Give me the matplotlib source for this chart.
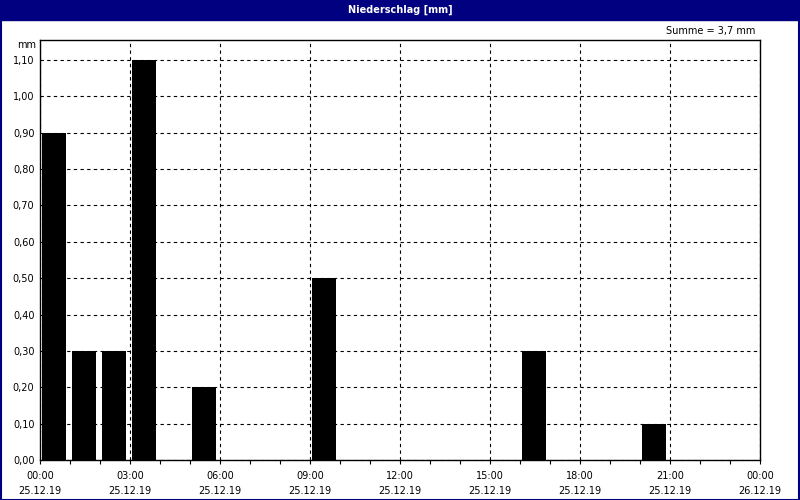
import matplotlib.pyplot as plt
from matplotlib.ticker import MultipleLocator, FuncFormatter
from matplotlib.patches import Rectangle

# Data: hourly precipitation on 25.12.19
hours = [0, 1, 2, 3, 5, 9, 16, 20]
rain_mm = [0.9, 0.3, 0.3, 1.1, 0.2, 0.5, 0.3, 0.1]
tick_hours = [0, 3, 6, 9, 12, 15, 18, 21, 24]
tick_labels = ['00:00\n25.12.19', '03:00\n25.12.19', '06:00\n25.12.19', '09:00\n25.12.19',
               '12:00\n25.12.19', '15:00\n25.12.19', '18:00\n25.12.19', '21:00\n25.12.19',
               '00:00\n26.12.19']

navy = '#000080'
plt.rcParams['font.family'] = 'DejaVu Sans'
plt.rcParams['font.size'] = 7

fig = plt.figure(figsize=(8, 5), dpi=100)
W, H = 800, 500
ax = fig.add_axes([40 / W, 40 / H, 720 / W, 420 / H])

ax.bar([h + 0.07 for h in hours], rain_mm, width=0.8, align='edge', color='black', zorder=3)

ax.set_xlim(0, 24)
ax.set_ylim(0, 1.155)
ax.set_xticks(tick_hours)
ax.set_xticklabels(tick_labels, linespacing=1.55)
ax.xaxis.set_minor_locator(MultipleLocator(1))
ax.yaxis.set_major_locator(MultipleLocator(0.1))
ax.yaxis.set_major_formatter(FuncFormatter(lambda v, p: f'{v:.2f}'.replace('.', ',')))

ax.grid(True, which='major', color='black', linestyle=(0, (3, 3)), linewidth=0.8)
ax.tick_params(axis='x', which='major', length=3, width=0.8, direction='out', pad=5)
ax.tick_params(axis='x', which='minor', length=3, width=0.8, direction='out')
ax.tick_params(axis='y', length=0, pad=4)
for s in ax.spines.values():
    s.set_linewidth(1.0)
    s.set_zorder(4)

# title bar and window frame
fig.patches.append(Rectangle((0, 1 - 20 / H), 1, 20 / H, transform=fig.transFigure,
                             color=navy, zorder=0))
fig.patches.append(Rectangle((0.5 / W, 0.5 / H), 1 - 1.5 / W, 1 - 1.5 / H, transform=fig.transFigure,
                             fill=False, edgecolor=navy, linewidth=1.5, zorder=1))
fig.text(0.5, 1 - 10 / H, 'Niederschlag [mm]', color='white', fontweight='bold',
         ha='center', va='center', fontsize=7)
fig.text(36 / W, 1 - 45 / H, 'mm', ha='right', va='center')
fig.text(755 / W, 1 - 31 / H, 'Summe = 3,7 mm', ha='right', va='center')

fig.savefig('out.png', dpi=100)
